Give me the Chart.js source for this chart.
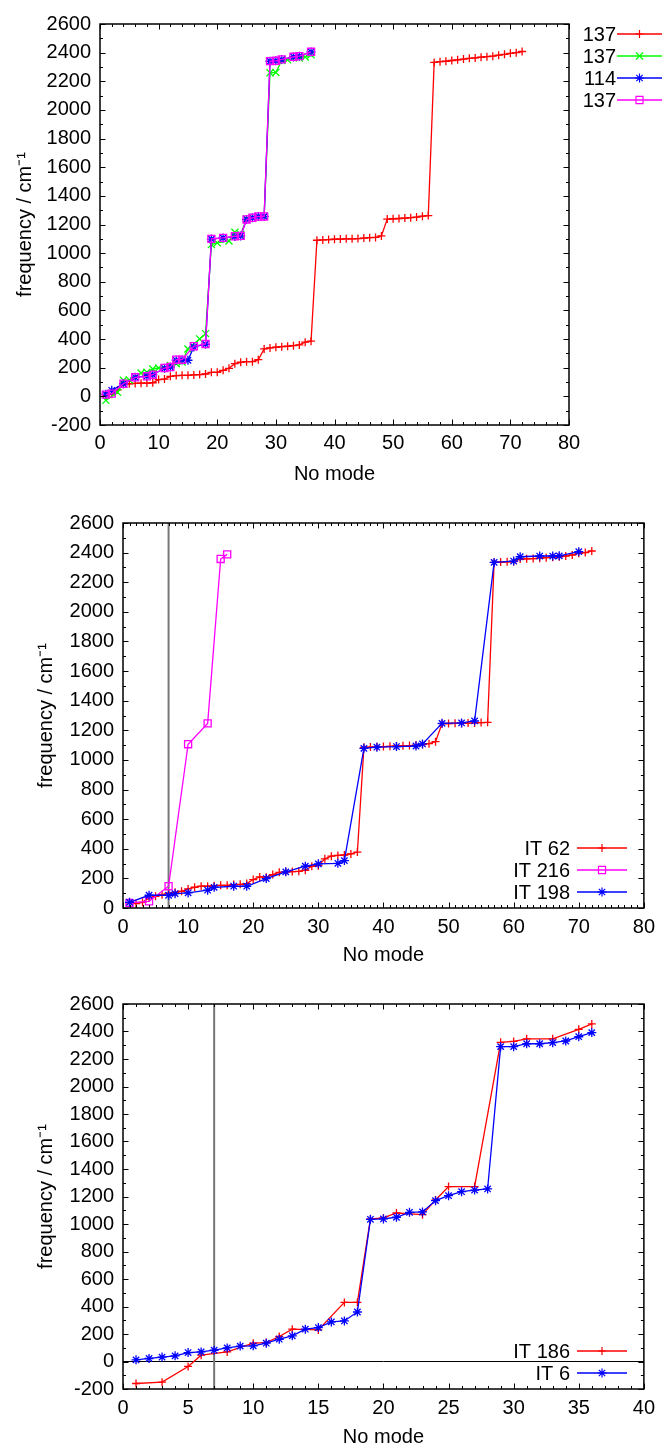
<!DOCTYPE html>
<html>
<head>
<meta charset="utf-8">
<script src="https://cdn.jsdelivr.net/npm/chart.js@4.4.1/dist/chart.umd.min.js"></script>
<style>
  html, body { margin: 0; padding: 0; background: #fff; overflow: hidden; }
  canvas { position: absolute; left: 0; }
</style>
</head>
<body>
<canvas id="chart1" width="662" height="490" style="top:0px"></canvas>
<canvas id="chart2" width="662" height="480" style="top:490px"></canvas>
<canvas id="chart3" width="662" height="480" style="top:970px"></canvas>
<script>
// ---- data ----
var modes72 = [1,2,3,4,5,6,7,8,9,10,11,12,13,14,15,16,17,18,19,20,21,22,23,24,25,26,27,28,29,30,31,32,33,34,35,36,
  37,38,39,40,41,42,43,44,45,46,47,48,49,50,51,52,53,54,55,56,57,58,59,60,61,62,63,64,65,66,67,68,69,70,71,72];
var modes36 = [1,2,3,4,5,6,7,8,9,10,11,12,13,14,15,16,17,18,19,20,21,22,23,24,25,26,27,28,29,30,31,32,33,34,35,36];

// chart 1
var red1 = [5,15,45,85,88,90,92,93,95,117,121,140,145,147,147,150,152,156,168,168,182,196,228,238,242,242,256,331,338,343,347,350,354,359,378,385,
  1090,1092,1095,1097,1098,1100,1100,1102,1105,1108,1110,1120,
  1238,1240,1242,1245,1248,1252,1258,1262,
  2332,2337,2340,2345,2350,2355,2360,2363,2368,2372,2375,2382,2388,2395,2400,2408];
var green1X = [1,3,4,5,7,8,9,10,12,13,14,15,17,18,19,20,22,23,24,25,26,27,28,29,30,31,32,34,35,36];
var green1Y = [-28,28,112,115,163,168,191,198,215,228,240,331,401,438,1060,1072,1085,1146,1130,1240,1248,1255,1258,2259,2262,2345,2350,2362,2370,2385];
var blue1X = [1,2,4,6,8,9,11,12,13,14,15,16,18,19,21,23,24,25,26,27,28,29,30,31,33,34,36];
var blue1Y = [15,42,88,133,142,151,196,205,252,254,252,345,364,1098,1106,1116,1120,1235,1247,1256,1256,2340,2343,2352,2370,2375,2405];
var mag1X = [1,2,4,6,8,9,11,12,13,14,16,18,19,21,23,24,25,26,27,28,29,30,31,33,34,36];
var mag1Y = [12,19,88,133,140,151,198,205,256,256,350,366,1100,1107,1118,1121,1235,1247,1256,1256,2341,2343,2353,2371,2376,2406];

// chart 2
var red2 = [34,29,38,68,79,90,100,106,113,129,140,147,147,151,153,153,158,160,165,192,210,208,226,241,244,246,248,255,282,286,332,350,355,358,365,378,
  1085,1087,1089,1090,1092,1094,1095,1097,1100,1104,1110,1123,
  1245,1246,1247,1248,1249,1250,1252,1254,
  2334,2336,2338,2340,2357,2358,2360,2362,2366,2368,2372,2377,2384,2395,2400,2411];
var mag2X = [1,4,7,10,13,15,16];
var mag2Y = [34,45,147,1106,1247,2357,2388];
var blue2X = [1,4,7,8,10,13,14,17,19,22,25,28,30,33,34,37,39,42,45,46,49,52,54,57,60,61,64,66,67,70];
var blue2Y = [38,86,86,97,102,120,140,147,147,199,244,282,298,302,320,1078,1086,1090,1094,1108,1247,1250,1263,2334,2343,2372,2377,2377,2378,2406];

// chart 3
var red3X = [1,3,5,6,8,10,11,12,13,15,17,18,19,20,21,23,24,25,27,29,30,31,33,35,36];
var red3Y = [-160,-150,-36,46,70,133,138,182,235,230,430,430,1037,1044,1080,1068,1175,1272,1272,2321,2328,2347,2347,2416,2455];
var blue3 = [12,22,32,41,65,70,82,99,112,114,133,162,187,235,247,288,295,360,1034,1037,1049,1085,1088,1170,1206,1235,1247,1255,2290,2290,2311,2311,2319,2331,2362,2392];

// reference lines (x = 7 marker, zero axis)
var markX = [7, 7];
var mark2Y = [0, 2600];
var mark3Y = [-200, 2600];
var zeroX = [0, 40];
var zeroY = [0, 0];

var legend1 = ["137", "137", "114", "137"];
var legend2 = ["IT 62", "IT 216", "IT 198"];
var legend3 = ["IT 186", "IT 6"];

// ---- helpers ----
function pairs(xs, ys) {
  return xs.map(function (x, i) { return { x: x, y: ys[i] }; });
}

function series(label, xs, ys, color, style, radius, order) {
  return {
    label: label,
    data: pairs(xs, ys),
    borderColor: color,
    backgroundColor: "rgba(0,0,0,0)",
    borderWidth: 1.3,
    pointStyle: style,
    pointRadius: radius,
    pointBorderWidth: 1.3,
    pointBorderColor: color,
    pointBackgroundColor: "rgba(0,0,0,0)",
    tension: 0,
    order: order,
  };
}

function refLine(xs, ys, color, width) {
  return {
    data: pairs(xs, ys),
    borderColor: color,
    borderWidth: width,
    pointRadius: 0,
    order: 10,
  };
}

function drawMark(ctx, style, x, y, r) {
  ctx.beginPath();
  if (style === "cross" || style === "star") {
    ctx.moveTo(x - r, y); ctx.lineTo(x + r, y);
    ctx.moveTo(x, y - r); ctx.lineTo(x, y + r);
  }
  if (style === "crossRot" || style === "star") {
    var d = r * 0.707;
    ctx.moveTo(x - d, y - d); ctx.lineTo(x + d, y + d);
    ctx.moveTo(x - d, y + d); ctx.lineTo(x + d, y - d);
  }
  if (style === "rect") {
    var s = r * 0.707;
    ctx.rect(x - s, y - s, 2 * s, 2 * s);
  }
  ctx.stroke();
}

// gnuplot-like frame with inward ticks on all sides
var gnuFrame = {
  id: "gnuFrame",
  afterDatasetsDraw: function (chart) {
    var o = chart.options.plugins.gnuFrame;
    var ctx = chart.ctx, a = chart.chartArea;
    var xs = chart.scales.x, ys = chart.scales.y;
    ctx.save();
    ctx.strokeStyle = "#000";
    ctx.lineWidth = 1;
    ctx.beginPath();
    var v, p, len;
    for (v = xs.min; v <= xs.max + 1e-9; v += o.xMinor) {
      p = Math.round(xs.getPixelForValue(v)) + 0.5;
      len = Math.abs(v / o.xMajor - Math.round(v / o.xMajor)) < 1e-6 ? 5.5 : 3;
      ctx.moveTo(p, a.bottom); ctx.lineTo(p, a.bottom - len);
      ctx.moveTo(p, a.top); ctx.lineTo(p, a.top + len);
    }
    for (v = ys.min; v <= ys.max + 1e-9; v += o.yMinor) {
      p = Math.round(ys.getPixelForValue(v)) + 0.5;
      len = Math.abs(v / o.yMajor - Math.round(v / o.yMajor)) < 1e-6 ? 5.5 : 3;
      ctx.moveTo(a.left, p); ctx.lineTo(a.left + len, p);
      ctx.moveTo(a.right, p); ctx.lineTo(a.right - len, p);
    }
    ctx.stroke();
    ctx.lineWidth = 1.5;
    ctx.strokeRect(a.left, a.top, a.right - a.left, a.bottom - a.top);
    ctx.restore();
  },
};

// gnuplot-like key: text, then line sample with marker
var gnuKey = {
  id: "gnuKey",
  afterDraw: function (chart) {
    var o = chart.options.plugins.gnuKey;
    var ctx = chart.ctx;
    ctx.save();
    ctx.font = "20px 'Liberation Sans', Arial, sans-serif";
    ctx.fillStyle = "#000";
    ctx.textAlign = "right";
    ctx.textBaseline = "middle";
    var row = 0;
    chart.data.datasets.forEach(function (ds) {
      if (!ds.label) return;
      var y = o.y0 + row * o.dy;
      ctx.fillText(ds.label, o.textRight, y + 1);
      ctx.strokeStyle = ds.borderColor;
      ctx.lineWidth = 1.3;
      ctx.beginPath();
      ctx.moveTo(o.line0, y); ctx.lineTo(o.line1, y);
      ctx.stroke();
      ctx.lineWidth = 1.2;
      drawMark(ctx, ds.pointStyle, (o.line0 + o.line1) / 2, y, ds.pointRadius);
      row++;
    });
    ctx.restore();
  },
};

Chart.defaults.font.family = "'Liberation Sans', Arial, sans-serif";
Chart.defaults.font.size = 20;
Chart.defaults.color = "#000";

function plain(value) {
  return String(value);
}

function axes(c) {
  return {
    x: {
      type: "linear",
      min: c.xmin, max: c.xmax,
      grid: { display: false, drawTicks: false },
      border: { display: false },
      ticks: { stepSize: c.xstep, autoSkip: false, maxRotation: 0, padding: c.xlabPad, callback: plain },
      title: { display: true, text: "No mode", padding: { top: 0, bottom: c.xtitlePad } },
      afterFit: function (s) { s.height = c.xh; },
    },
    y: {
      type: "linear",
      min: c.ymin, max: c.ymax,
      grid: { display: false, drawTicks: false },
      border: { display: false },
      ticks: { stepSize: 200, autoSkip: false, padding: 9, callback: plain },
      title: { display: true, text: "frequency / cm\u207B\u00B9", padding: { top: c.ytitlePad, bottom: 0 } },
      afterFit: function (s) { s.width = c.yw; },
    },
  };
}

function makeChart(id, datasets, ax, pad, frame, key) {
  return new Chart(document.getElementById(id).getContext("2d"), {
    type: "line",
    data: { datasets: datasets },
    options: {
      responsive: false,
      animation: false,
      events: [],
      layout: { padding: pad },
      scales: axes(ax),
      plugins: {
        legend: { display: false },
        tooltip: { enabled: false },
        gnuFrame: frame,
        gnuKey: key,
      },
    },
    plugins: [gnuFrame, gnuKey],
  });
}

// ---- chart 1 ----
makeChart("chart1", [
  series(legend1[0], modes72, red1, "#ff0000", "cross", 4, 3),
  series(legend1[1], green1X, green1Y, "#00ff00", "crossRot", 5, 2),
  series(legend1[2], blue1X, blue1Y, "#0000ff", "star", 4.5, 1),
  series(legend1[3], mag1X, mag1Y, "#ff00ff", "rect", 5, 0),
], { xmin: 0, xmax: 80, xstep: 10, ymin: -200, ymax: 2600, yw: 100, xh: 65, xlabPad: 6, xtitlePad: 4, ytitlePad: 13 },
{ top: 24, right: 93, bottom: 0, left: 0 },
{ xMinor: 2, xMajor: 10, yMinor: 100, yMajor: 200 },
{ textRight: 616, line0: 617, line1: 662, y0: 34, dy: 22 });

// ---- chart 2 ----
makeChart("chart2", [
  refLine(markX, mark2Y, "#777777", 2),
  series(legend2[0], modes72, red2, "#ff0000", "cross", 4, 3),
  series(legend2[1], mag2X, mag2Y, "#ff00ff", "rect", 5, 2),
  series(legend2[2], blue2X, blue2Y, "#0000ff", "star", 4.5, 1),
], { xmin: 0, xmax: 80, xstep: 10, ymin: 0, ymax: 2600, yw: 123, xh: 62, xlabPad: 7, xtitlePad: 3, ytitlePad: 34 },
{ top: 33, right: 13, bottom: 0, left: 0 },
{ xMinor: 1, xMajor: 10, yMinor: 100, yMajor: 200 },
{ textRight: 570, line0: 577, line1: 627, y0: 358, dy: 22 });

// ---- chart 3 ----
makeChart("chart3", [
  refLine(markX, mark3Y, "#777777", 2),
  refLine(zeroX, zeroY, "#000000", 1),
  series(legend3[0], red3X, red3Y, "#ff0000", "cross", 4, 3),
  series(legend3[1], modes36, blue3, "#0000ff", "star", 4.5, 1),
], { xmin: 0, xmax: 40, xstep: 5, ymin: -200, ymax: 2600, yw: 123, xh: 61, xlabPad: 7, xtitlePad: 1, ytitlePad: 34 },
{ top: 34, right: 13, bottom: 0, left: 0 },
{ xMinor: 1, xMajor: 5, yMinor: 100, yMajor: 200 },
{ textRight: 570, line0: 577, line1: 627, y0: 381, dy: 22 });
</script>
</body>
</html>
